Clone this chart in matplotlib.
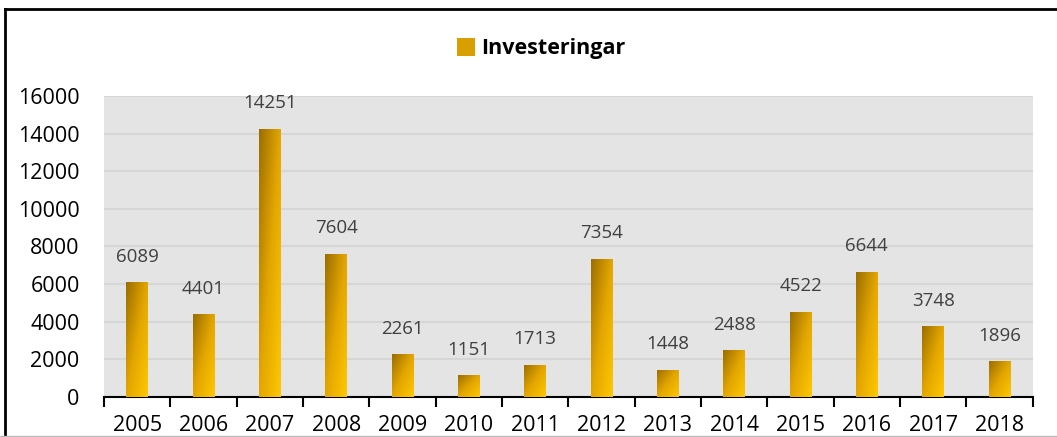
import matplotlib.pyplot as plt
import numpy as np
from matplotlib.colors import LinearSegmentedColormap
from matplotlib.lines import Line2D
from matplotlib.patches import Patch

# ===== データ
years = ["2005", "2006", "2007", "2008", "2009", "2010", "2011",
         "2012", "2013", "2014", "2015", "2016", "2017", "2018"]
investments = [6089, 4401, 14251, 7604, 2261, 1151, 1713,
               7354, 1448, 2488, 4522, 6644, 3748, 1896]
series_name = "Investeringar"
y_ticks = [0, 2000, 4000, 6000, 8000, 10000, 12000, 14000, 16000]


def main():
    plt.rcParams["font.family"] = ["Open Sans", "DejaVu Sans"]

    fig = plt.figure(figsize=(10.57, 4.37), dpi=100)
    ax = fig.add_axes([0.0984, 0.0915, 0.8786, 0.689])
    ax.set_facecolor("#e4e4e4")

    x = np.arange(len(years))
    bars = ax.bar(x, investments, width=0.33, color="none", zorder=3)

    # グラデーション (左上: 暗い金色 → 右下: 明るい黄色)
    cmap = LinearSegmentedColormap.from_list("gold", ["#9a6e00", "#e3a600", "#ffc800"])
    gx, gy = np.meshgrid(np.linspace(0, 1, 50), np.linspace(0, 1, 200))
    grad = gx * 0.5 + gy * 0.5
    for bar, v in zip(bars, investments):
        x0 = bar.get_x()
        w = bar.get_width()
        im = ax.imshow(grad, cmap=cmap, extent=(x0, x0 + w, 0, v),
                       origin="upper", aspect="auto", zorder=3)
        im.set_clip_path(bar)
        ax.annotate(str(v), (x0 + w / 2, v), xytext=(0, 12), textcoords="offset points",
                    ha="center", va="bottom", fontsize=13.5, color="#404040")

    ax.set_xlim(-0.5, len(years) - 0.5)
    ax.set_ylim(0, 16000)
    ax.set_yticks(y_ticks)
    ax.set_yticklabels([str(t) for t in y_ticks], fontsize=15.5)
    ax.tick_params(axis="y", length=0, pad=17.5)
    ax.yaxis.grid(True, color="#d6d6d6", linewidth=1.5, zorder=0)
    ax.set_axisbelow(True)

    # x軸: 区切り目盛り
    ax.set_xticks(np.arange(-0.5, len(years), 1.0))
    ax.set_xticklabels([])
    ax.set_xticks(x, minor=True)
    ax.set_xticklabels(years, minor=True, fontsize=15.5)
    ax.tick_params(axis="x", which="major", length=7, width=1.5, color="black")
    ax.tick_params(axis="x", which="minor", length=0, pad=13)

    for s in ["top", "right", "left"]:
        ax.spines[s].set_visible(False)
    ax.spines["bottom"].set_linewidth(1.5)

    # 凡例
    handle = Patch(facecolor="#d99e00", edgecolor="none")
    fig.legend([handle], [series_name], loc="center", bbox_to_anchor=(0.512, 0.888),
               frameon=False, handlelength=0.85, handleheight=0.85, handletextpad=0.3,
               prop={"weight": "bold", "size": 15.5})

    # 枠線
    fig.add_artist(Line2D([0.005, 1.0], [0.979, 0.979], color="black", linewidth=2))
    fig.add_artist(Line2D([0.005, 0.005], [0.0, 0.979], color="black", linewidth=2))
    fig.add_artist(Line2D([0.0, 1.0], [0.002, 0.002], color="#bbbbbb", linewidth=1))

    fig.savefig("out.png", dpi=100)


if __name__ == "__main__":
    main()
